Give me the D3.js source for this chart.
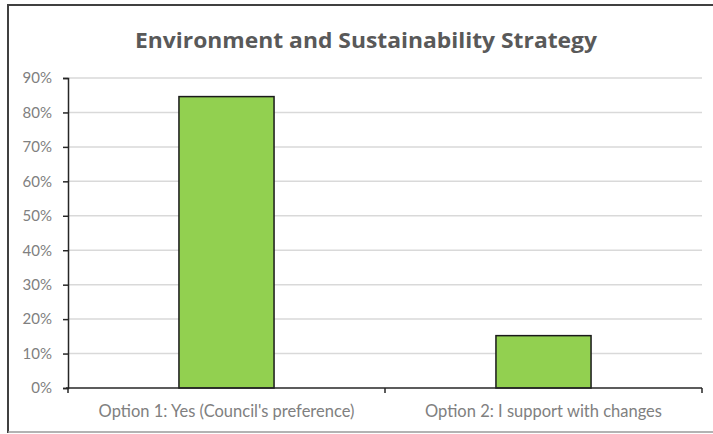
<!DOCTYPE html>
<html>
<head>
<meta charset="utf-8">
<script src="https://cdn.jsdelivr.net/npm/d3@7"></script>
<style>
  body { margin: 0; background: #fff; }
  svg { display: block; }
</style>
</head>
<body>
<div id="vis"></div>
<script>
// chart data
const categories = ["Option 1: Yes (Council's preference)", "Option 2: I support with changes"];
const shares = [0.846, 0.152];
const yTicks = [0, 0.1, 0.2, 0.3, 0.4, 0.5, 0.6, 0.7, 0.8, 0.9];
const title = "Environment and Sustainability Strategy";

const W = 713, H = 434;
const margin = { top: 78, right: 11, bottom: 46, left: 68 };
const width = W - margin.left - margin.right;
const height = H - margin.top - margin.bottom;

const svg = d3.select('#vis')
  .append('svg')
  .attr('width', W)
  .attr('height', H);

// outer frame (left/top dark, bottom lighter)
svg.append('line').attr('x1', 8).attr('x2', 8).attr('y1', 4).attr('y2', 433)
  .attr('stroke', '#404040').attr('stroke-width', 2);
svg.append('line').attr('x1', 8).attr('x2', 713).attr('y1', 5).attr('y2', 5)
  .attr('stroke', '#404040').attr('stroke-width', 2);
svg.append('line').attr('x1', 8).attr('x2', 713).attr('y1', 432).attr('y2', 432)
  .attr('stroke', '#9a9a9a').attr('stroke-width', 1.5);

svg.append('text')
  .attr('x', 366)
  .attr('y', 48)
  .attr('text-anchor', 'middle')
  .style('font-family', 'Open Sans, sans-serif')
  .style('font-weight', 'bold')
  .style('font-size', '21px')
  .style('fill', '#595959')
  .attr('textLength', 462)
  .attr('lengthAdjust', 'spacingAndGlyphs')
  .text(title);

const g = svg.append('g')
  .attr('transform', `translate(${margin.left},${margin.top})`);

const x = d3.scaleBand()
  .domain(categories)
  .range([0, width])
  .paddingInner(0.7)
  .paddingOuter(0.35);

const y = d3.scaleLinear()
  .domain([0, 0.9])
  .range([height, 0]);

// gridlines
g.selectAll('.grid')
  .data(yTicks.filter(d => d > 0))
  .join('line')
  .attr('class', 'grid')
  .attr('x1', 0)
  .attr('x2', width)
  .attr('y1', d => y(d))
  .attr('y2', d => y(d))
  .attr('stroke', '#d9d9d9')
  .attr('stroke-width', 1.5);

// bars
g.selectAll('.bar')
  .data(shares)
  .join('rect')
  .attr('class', 'bar')
  .attr('x', (d, i) => x(categories[i]))
  .attr('y', d => y(d))
  .attr('width', x.bandwidth())
  .attr('height', d => height - y(d))
  .attr('fill', '#92d050')
  .attr('stroke', '#1a1a1a')
  .attr('stroke-width', 1.5);

// y axis
const yAxis = g.append('g')
  .call(d3.axisLeft(y).tickValues(yTicks).tickFormat(d3.format('.0%')).tickSize(5).tickPadding(11));
yAxis.select('.domain').attr('stroke', '#262626').attr('stroke-width', 1.5);
yAxis.selectAll('.tick line').attr('stroke', '#262626').attr('stroke-width', 1.5);
yAxis.selectAll('.tick text')
  .style('font-family', 'Lato, sans-serif')
  .style('font-size', '15px')
  .style('fill', '#808080');

// x axis
const xAxisG = g.append('g')
  .attr('transform', `translate(0,${height})`);
xAxisG.append('line')
  .attr('x1', -2).attr('x2', width)
  .attr('y1', 0).attr('y2', 0)
  .attr('stroke', '#262626').attr('stroke-width', 1.5);
xAxisG.selectAll('.xtick')
  .data([0, width / 2, width])
  .join('line')
  .attr('class', 'xtick')
  .attr('x1', d => d).attr('x2', d => d)
  .attr('y1', 0).attr('y2', 5)
  .attr('stroke', '#262626').attr('stroke-width', 1.5);
xAxisG.selectAll('.xlabel')
  .data(categories)
  .join('text')
  .attr('class', 'xlabel')
  .attr('x', d => x(d) + x.bandwidth() / 2)
  .attr('y', 29)
  .attr('text-anchor', 'middle')
  .style('font-family', 'Lato, sans-serif')
  .style('font-size', '16.5px')
  .style('fill', '#808080')
  .text(d => d);
</script>
</body>
</html>
